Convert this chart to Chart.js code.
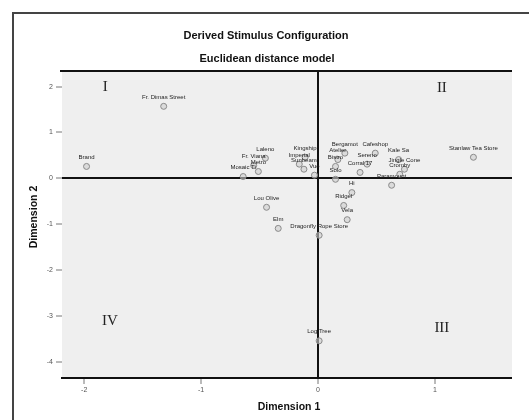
<!DOCTYPE html>
<html>
<head>
<meta charset="utf-8">
<script src="https://cdn.jsdelivr.net/npm/chart.js@4/dist/chart.umd.min.js"></script>
<style>
  html, body { margin: 0; padding: 0; background: #fff; overflow: hidden; }
  #wrap { position: relative; width: 529px; height: 420px; }
</style>
</head>
<body>
<div id="wrap"><canvas id="c"></canvas></div>
<script>
// Stimulus names and their coordinates in the two-dimensional solution
const stimuli = [
  "Fr. Dimas Street", "Brand", "Stanlaw Tea Store", "Laleno", "Kingship",
  "Fr. Viana", "Imperial", "Metro", "Sunbeam", "Mosaic Ti", "Vue",
  "Bergamot", "Cafeshop", "Atelier", "Kale Sa", "Sereno", "Bistro",
  "Jingle Cone", "Corral 17", "Cromby", "Solo", "Paramount", "Lou Olive",
  "Ridgel", "Vela", "Elm", "Dragonfly Rope Store", "Log Tree", "Hi"
];
const dim1 = [
  -1.32, -1.98, 1.33, -0.45, -0.11,
  -0.55, -0.16, -0.51, -0.12, -0.64, -0.03,
  0.23, 0.49, 0.17, 0.69, 0.42, 0.15,
  0.74, 0.36, 0.70, 0.15, 0.63, -0.44,
  0.22, 0.25, -0.34, 0.01, 0.01, 0.29
];
const dim2 = [
  1.57, 0.26, 0.46, 0.44, 0.46,
  0.28, 0.31, 0.15, 0.20, 0.04, 0.07,
  0.55, 0.55, 0.41, 0.41, 0.31, 0.26,
  0.20, 0.13, 0.09, -0.02, -0.15, -0.63,
  -0.59, -0.90, -1.09, -1.24, -3.54, -0.31
];

// Axis ticks
const xTicks = [-2, -1, 0, 1];
const yTicks = [2, 1, 0, -1, -2, -3, -4];

// Quadrant markers
const quadrantNames = ["I", "II", "III", "IV"];
const quadrantAt = [[-1.82, 1.98], [1.06, 1.96], [1.06, -3.27], [-1.78, -3.10]];

const points = dim1.map((x, i) => ({ x: x, y: dim2[i], name: stimuli[i] }));

const decor = {
  id: 'decor',
  beforeDraw(chart) {
    const { ctx, chartArea: a } = chart;
    ctx.save();
    ctx.fillStyle = '#efefef';
    ctx.fillRect(a.left, a.top, a.right - a.left, a.bottom - a.top);
    ctx.restore();
  },
  afterDraw(chart) {
    const { ctx, chartArea: a, scales } = chart;
    ctx.save();
    // outer frame
    ctx.strokeStyle = '#444';
    ctx.lineWidth = 2;
    ctx.beginPath();
    ctx.moveTo(13, 420);
    ctx.lineTo(13, 13);
    ctx.lineTo(529, 13);
    ctx.stroke();
    // top edge of the plotting region
    ctx.strokeStyle = '#111';
    ctx.beginPath();
    ctx.moveTo(a.left - 2, a.top);
    ctx.lineTo(a.right, a.top);
    ctx.stroke();

    // titles
    ctx.fillStyle = '#111';
    ctx.textAlign = 'center';
    ctx.textBaseline = 'middle';
    ctx.font = 'bold 11px "Liberation Sans", Arial, sans-serif';
    ctx.fillText('Derived Stimulus Configuration', 266, 36);
    ctx.fillText('Euclidean distance model', 267, 59);

    // axis titles
    ctx.font = 'bold 10.5px "Liberation Sans", Arial, sans-serif';
    ctx.fillText('Dimension 1', 289, 407);
    ctx.save();
    ctx.translate(34, 217);
    ctx.rotate(-Math.PI / 2);
    ctx.fillText('Dimension 2', 0, 0);
    ctx.restore();

    // quadrant numerals
    ctx.font = '15px "Liberation Serif", "DejaVu Serif", serif';
    ctx.fillStyle = '#222';
    quadrantNames.forEach((q, i) => {
      const px = scales.x.getPixelForValue(quadrantAt[i][0]);
      const py = scales.y.getPixelForValue(quadrantAt[i][1]);
      ctx.fillText(q, px, py);
    });

    // stimulus labels above each point
    ctx.font = '6px "Liberation Sans", Arial, sans-serif';
    ctx.fillStyle = '#222';
    const meta = chart.getDatasetMeta(0);
    meta.data.forEach((el, i) => {
      ctx.fillText(points[i].name, el.x, el.y - 9);
    });
    ctx.restore();
  }
};

new Chart(document.getElementById('c'), {
  type: 'scatter',
  data: {
    datasets: [{
      data: points,
      pointRadius: 3,
      pointHoverRadius: 3,
      borderWidth: 1,
      borderColor: '#8a8a8a',
      backgroundColor: 'rgba(205,205,205,0.6)'
    }]
  },
  options: {
    responsive: true,
    maintainAspectRatio: false,
    animation: false,
    events: [],
    layout: { padding: { top: 71, right: 17, left: 0, bottom: 0 } },
    plugins: { legend: { display: false }, tooltip: { enabled: false }, title: { display: false } },
    scales: {
      x: {
        type: 'linear',
        min: -2.19,
        max: 1.66,
        afterBuildTicks: s => { s.ticks = xTicks.map(v => ({ value: v })); },
        afterFit: s => { s.height = 42; },
        border: { display: true, color: '#111', width: 2 },
        grid: {
          drawOnChartArea: true,
          color: c => (c.tick && c.tick.value === 0 ? '#111' : 'rgba(0,0,0,0)'),
          lineWidth: c => (c.tick && c.tick.value === 0 ? 2 : 0),
          tickColor: '#777',
          tickLength: 6,
          tickWidth: 1
        },
        ticks: {
          color: '#555',
          padding: 2,
          font: { size: 7, family: '"Liberation Sans", Arial, sans-serif' },
          callback: v => String(v)
        }
      },
      y: {
        type: 'linear',
        min: -4.35,
        max: 2.34,
        afterBuildTicks: s => { s.ticks = yTicks.map(v => ({ value: v })); },
        afterFit: s => { s.width = 62; },
        border: { display: false },
        grid: {
          drawOnChartArea: true,
          color: c => (c.tick && c.tick.value === 0 ? '#111' : 'rgba(0,0,0,0)'),
          lineWidth: c => (c.tick && c.tick.value === 0 ? 2 : 0),
          tickColor: '#777',
          tickLength: 6,
          tickWidth: 1
        },
        ticks: {
          color: '#555',
          padding: 3,
          font: { size: 7, family: '"Liberation Sans", Arial, sans-serif' },
          callback: v => String(v)
        }
      }
    }
  },
  plugins: [decor]
});
</script>
</body>
</html>
